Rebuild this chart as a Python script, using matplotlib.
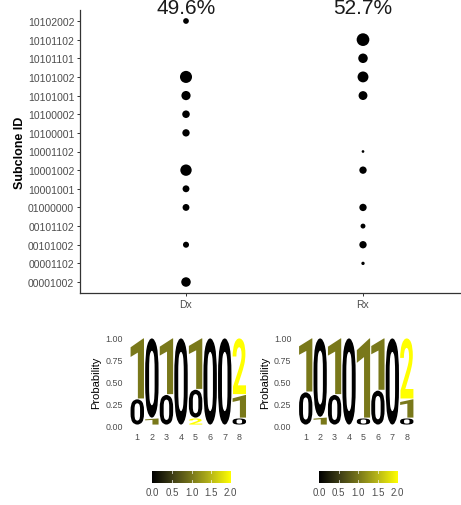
import matplotlib
matplotlib.use('Agg')
import matplotlib.pyplot as plt
import numpy as np
from matplotlib.textpath import TextPath
from matplotlib.font_manager import FontProperties
from matplotlib.patches import PathPatch
from matplotlib.transforms import Affine2D
from matplotlib.colors import LinearSegmentedColormap

plt.rcParams['font.family'] = ['Liberation Sans', 'DejaVu Sans']

# ---------------- data ----------------
subclones = ['00001002', '00001102', '00101002', '00101102', '01000000',
             '10001001', '10001002', '10001102', '10100001', '10100002',
             '10101001', '10101002', '10101101', '10101102', '10102002']
samples = ['Dx', 'Rx']
purity = ['49.6%', '52.7%']

dx_ids = ['10102002', '10101002', '10101001', '10100002', '10100001',
          '10001002', '10001001', '01000000', '00101002', '00001002']
dx_vals = [3.0, 22.0, 11.0, 6.5, 6.0, 19.0, 5.0, 5.0, 3.5, 12.0]

rx_ids = ['10101102', '10101101', '10101002', '10101001', '10001102',
          '10001002', '01000000', '00101102', '00101002', '00001102']
rx_vals = [25.0, 12.0, 17.0, 10.0, 0.8, 6.0, 6.0, 2.0, 6.0, 0.9]

positions = [1, 2, 3, 4, 5, 6, 7, 8]
letters = ['0', '1', '2']
dx_p0 = [0.30, 0.92, 0.35, 1.00, 0.33, 1.00, 1.00, 0.08]
dx_p1 = [0.70, 0.08, 0.65, 0.00, 0.59, 0.00, 0.00, 0.27]
dx_p2 = [0.00, 0.00, 0.00, 0.00, 0.08, 0.00, 0.00, 0.65]
rx_p0 = [0.38, 0.91, 0.35, 1.00, 0.08, 0.40, 1.00, 0.08]
rx_p1 = [0.62, 0.09, 0.65, 0.00, 0.92, 0.60, 0.00, 0.22]
rx_p2 = [0.00, 0.00, 0.00, 0.00, 0.00, 0.00, 0.00, 0.70]

cbar_ticks = [0.0, 0.5, 1.0, 1.5, 2.0]

# ---------------- styling ----------------
W, H = 461, 506
DPI = 100
fig = plt.figure(figsize=(W / DPI, H / DPI), dpi=DPI)
grey = '#4d4d4d'

cmap = LinearSegmentedColormap.from_list(
    'blk_yel', [(0.0, '#000000'), (0.25, '#3c3b15'), (0.5, '#78771a'),
                (0.75, '#b9b818'), (1.0, '#ffff00')])


def fig_rect(x0, y0, x1, y1):
    return [x0 / W, 1 - y1 / H, (x1 - x0) / W, (y1 - y0) / H]


# ---------------- dot plot ----------------
ax = fig.add_axes(fig_rect(79.8, 10.8, 461, 294.2))
ypos = {s: i + 1 for i, s in enumerate(subclones)}
allv = dx_vals + rx_vals
vmin, vmax = min(allv), max(allv)


def diam_px(v):
    return 2.7 + 10.0 * np.sqrt((np.asarray(v) - vmin) / (vmax - vmin))


for xi, (ids, vals) in enumerate([(dx_ids, dx_vals), (rx_ids, rx_vals)], start=1):
    d = diam_px(vals) * 72 / DPI
    ax.scatter([xi] * len(ids), [ypos[s] for s in ids], s=d ** 2,
               color='black', edgecolors='none', zorder=3)

ax.set_xlim(0.4, 0.4 + (461 - 79.8) / 177.0)
ax.set_ylim(0.4, len(subclones) + 0.6)
ax.set_xticks([1, 2])
ax.set_xticklabels(samples)
ax.set_yticks(range(1, len(subclones) + 1))
ax.set_yticklabels(subclones)
for sp in ['top', 'right']:
    ax.spines[sp].set_visible(False)
for sp in ['left', 'bottom']:
    ax.spines[sp].set_color('#333333')
    ax.spines[sp].set_linewidth(0.9)
ax.tick_params(axis='both', colors='#333333', labelcolor=grey,
               labelsize=7.5, length=2.5, width=0.7, pad=1.5)
for xi, t in enumerate(purity, start=1):
    ax.text(xi, (294.2 - 14.5) / (294.2 - 10.8), t, transform=ax.get_xaxis_transform(),
            ha='center', va='baseline', fontsize=15, color='#1a1a1a', clip_on=False)

fig.text(20 / W, 1 - 152.5 / H, 'Subclone ID', rotation=90, ha='center',
         va='center', fontsize=9, fontweight='bold', color='black')

# ---------------- logos ----------------
fp = FontProperties(family='Roboto', weight='bold')


def draw_letter(a, ch, x, y0, h, color, width=0.92):
    tp = TextPath((0, 0), ch, size=1, prop=fp)
    bb = tp.get_extents()
    tr = (Affine2D().translate(-bb.x0, -bb.y0)
          .scale(width / bb.width, h / bb.height)
          .translate(x - width / 2, y0))
    a.add_patch(PathPatch(tr.transform_path(tp), facecolor=color,
                          edgecolor='none', lw=0, clip_on=False))


def logo(rect, p0, p1, p2):
    a = fig.add_axes(rect)
    for i, x in enumerate(positions):
        probs = [(p0[i], '0'), (p1[i], '1'), (p2[i], '2')]
        probs = sorted(probs, key=lambda t: t[0])
        y = 0.0
        for p, ch in probs:
            if p > 0:
                draw_letter(a, ch, x, y + 0.005, p - 0.01, cmap(int(ch) / 2.0))
            y += p
    a.set_xlim(0.5, 8.5)
    a.set_ylim(0, 1)
    a.set_xticks(positions)
    a.set_yticks([0, 0.25, 0.5, 0.75, 1.0])
    a.set_yticklabels(['0.00', '0.25', '0.50', '0.75', '1.00'])
    for sp in a.spines.values():
        sp.set_visible(False)
    a.tick_params(axis='both', length=0, labelsize=6.4, labelcolor=grey)
    a.tick_params(axis='y', pad=5)
    a.tick_params(axis='x', pad=5)
    a.set_ylabel('Probability', fontsize=8, color='black', labelpad=3)
    return a


logo(fig_rect(130, 339, 246.6, 426), dx_p0, dx_p1, dx_p2)
logo(fig_rect(298.5, 339, 414, 426), rx_p0, rx_p1, rx_p2)


# ---------------- colorbars ----------------
def cbar(x0, x1):
    c = fig.add_axes(fig_rect(x0, 471.7, x1, 483.7))
    grad = np.linspace(0, 1, 256).reshape(1, -1)
    c.imshow(grad, cmap=cmap, aspect='auto', extent=[0, 2, 0, 1])
    for t in cbar_ticks[1:-1]:
        c.plot([t, t], [0, 0.2], color='white', lw=0.6, alpha=0.8)
        c.plot([t, t], [0.8, 1], color='white', lw=0.6, alpha=0.8)
    c.set_xlim(0, 2)
    c.set_ylim(0, 1)
    c.set_yticks([])
    c.set_xticks(cbar_ticks)
    c.set_xticklabels([f'{t:.1f}' for t in cbar_ticks])
    c.tick_params(axis='x', length=0, labelsize=7, labelcolor=grey, pad=3)
    for sp in c.spines.values():
        sp.set_visible(False)


cbar(152.3, 230.7)
cbar(319, 397.7)

fig.savefig('out.png', dpi=DPI)
